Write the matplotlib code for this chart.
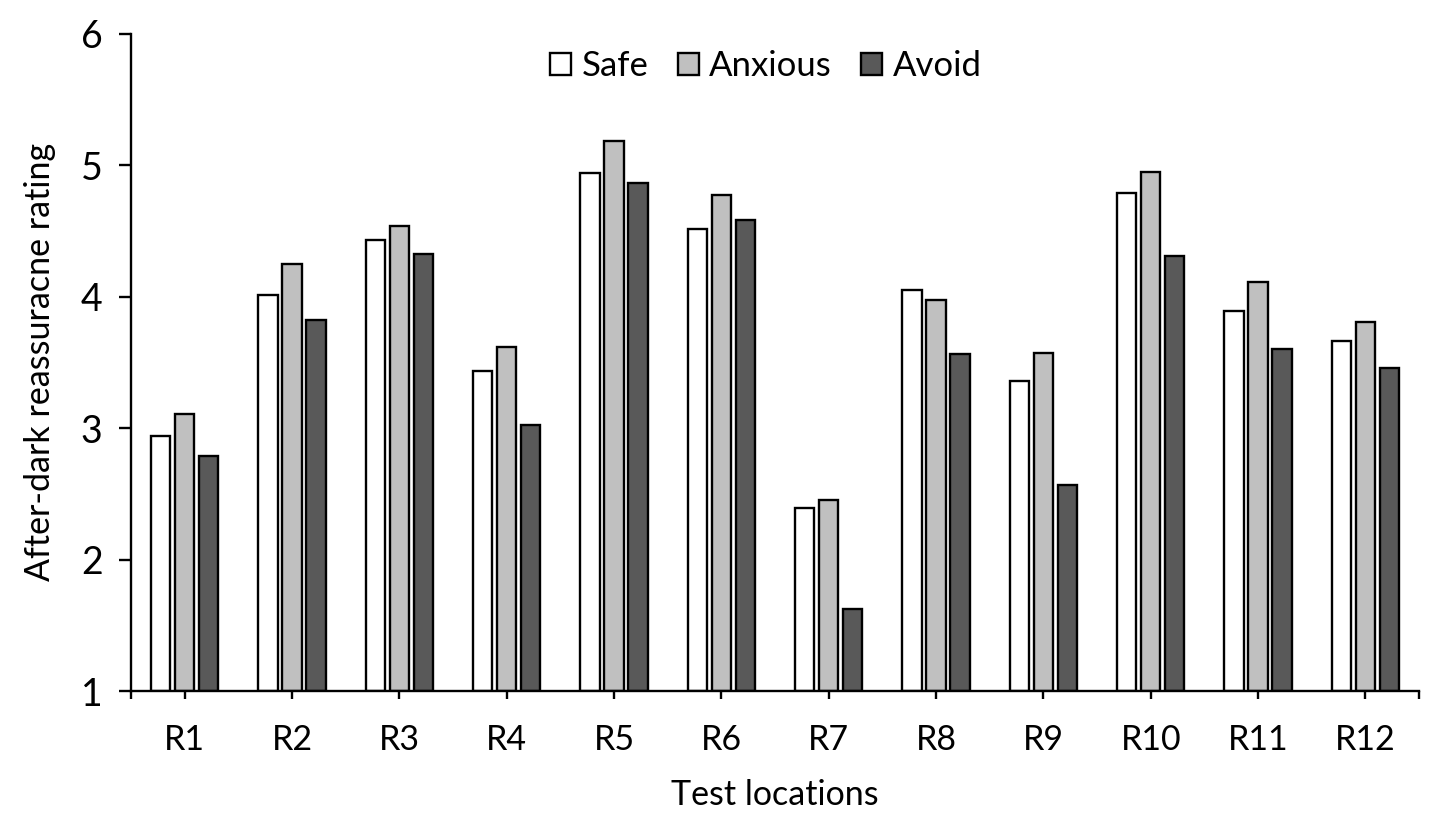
import matplotlib
matplotlib.use('Agg')
import matplotlib.pyplot as plt
import numpy as np

# Data:
locations = ['R1', 'R2', 'R3', 'R4', 'R5', 'R6', 'R7', 'R8', 'R9', 'R10', 'R11', 'R12']
safe = [2.94, 4.01, 4.43, 3.43, 4.94, 4.51, 2.39, 4.05, 3.36, 4.79, 3.89, 3.66]
anxious = [3.11, 4.25, 4.54, 3.62, 5.18, 4.77, 2.45, 3.97, 3.57, 4.95, 4.11, 3.81]
avoid = [2.79, 3.82, 4.32, 3.02, 4.86, 4.58, 1.62, 3.56, 2.57, 4.31, 3.60, 3.46]

series_names = ['Safe', 'Anxious', 'Avoid']
series_colors = ['#ffffff', '#c0c0c0', '#595959']

plt.rcParams['font.family'] = ['Lato', 'DejaVu Sans']

fig = plt.figure(figsize=(14.43, 8.39), dpi=100)
ax = fig.add_axes([0.0908, 0.1764, 0.8926, 0.7836])

x = np.arange(len(locations))
bar_w = 0.18
step = 0.224

for i, (vals, name, col) in enumerate(zip([safe, anxious, avoid], series_names, series_colors)):
    ax.bar(x + (i - 1) * step, np.array(vals) - 1, bottom=1, width=bar_w,
           color=col, edgecolor='black', linewidth=1.7, label=name)

ax.set_xlim(-0.5, 11.5)
ax.set_ylim(1, 6)
ax.set_yticks([1, 2, 3, 4, 5, 6])
ax.set_xticks(x)
ax.set_xticklabels(locations)
ax.set_xticks([-0.5, 11.5], minor=True)

for side in ['top', 'right']:
    ax.spines[side].set_visible(False)
for side in ['left', 'bottom']:
    ax.spines[side].set_linewidth(1.7)

ax.tick_params(axis='y', direction='out', length=8.5, width=1.7, labelsize=27, pad=12)
ax.tick_params(axis='x', which='both', direction='out', length=6, width=1.7, labelsize=24.5, pad=18)

ax.set_xlabel('Test locations', fontsize=24.5, labelpad=16)
ax.set_ylabel('After-dark reassuracne rating', fontsize=24.5, labelpad=18)

leg = ax.legend(loc='upper center', bbox_to_anchor=(0.493, 1.012), ncol=3, frameon=False,
                fontsize=25, handlelength=0.6, handleheight=0.6, handletextpad=0.3,
                columnspacing=0.85, borderaxespad=0.3)

fig.savefig('out.png', dpi=100)
